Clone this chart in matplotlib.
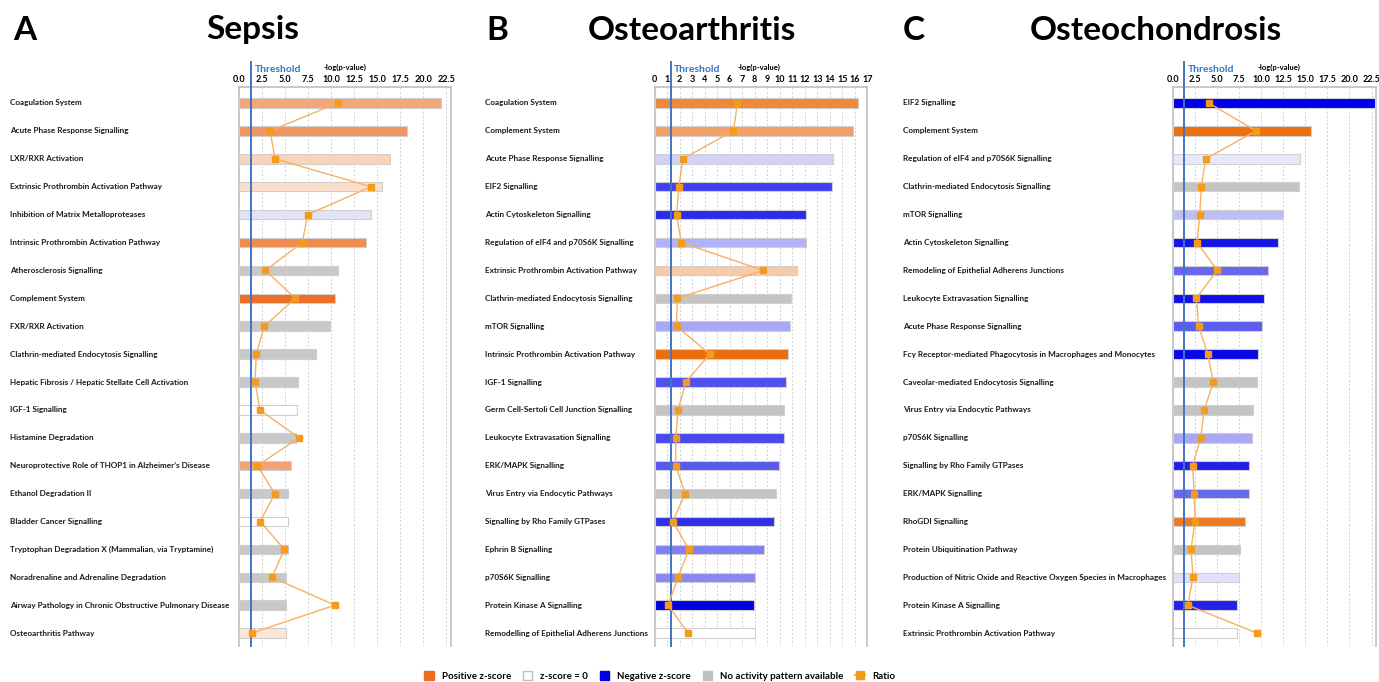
import matplotlib
matplotlib.use("Agg")
import matplotlib.pyplot as plt
from matplotlib.patches import Patch
from matplotlib.lines import Line2D
from matplotlib.transforms import blended_transform_factory

# ---------------- data ----------------
sepsis_pathways = [
    "Coagulation System", "Acute Phase Response Signalling", "LXR/RXR Activation",
    "Extrinsic Prothrombin Activation Pathway", "Inhibition of Matrix Metalloproteases",
    "Intrinsic Prothrombin Activation Pathway", "Atherosclerosis Signalling",
    "Complement System", "FXR/RXR Activation", "Clathrin-mediated Endocytosis Signalling",
    "Hepatic Fibrosis / Hepatic Stellate Cell Activation", "IGF-1 Signalling",
    "Histamine Degradation", "Neuroprotective Role of THOP1 in Alzheimer\u2019s Disease",
    "Ethanol Degradation II", "Bladder Cancer Signalling",
    "Tryptophan Degradation X (Mammalian, via Tryptamine)",
    "Noradrenaline and Adrenaline Degradation",
    "Airway Pathology in Chronic Obstructive Pulmonary Disease", "Osteoarthritis Pathway",
]
sepsis_logp = [21.9, 18.25, 16.45, 15.5, 14.4, 13.85, 10.75, 10.42, 9.88, 8.37,
               6.45, 6.28, 6.2, 5.7, 5.34, 5.34, 5.3, 5.12, 5.12, 5.12]
sepsis_ratio = [0.467, 0.148, 0.171, 0.624, 0.325, 0.300, 0.126, 0.267, 0.121, 0.083,
                0.077, 0.100, 0.284, 0.088, 0.170, 0.102, 0.215, 0.157, 0.454, 0.061]
sepsis_colors = ["#F4A677", "#F09660", "#FBD3B6", "#FCDFCB", "#E3E3F5", "#EF8C4E",
                 "#C8C8C8", "#EC6F26", "#C8C8C8", "#C8C8C8", "#C8C8C8", "#FFFFFF",
                 "#C8C8C8", "#F3A273", "#C8C8C8", "#FFFFFF", "#C8C8C8", "#C8C8C8",
                 "#C8C8C8", "#FBE7D9"]

oa_pathways = [
    "Coagulation System", "Complement System", "Acute Phase Response Signalling",
    "EIF2 Signalling", "Actin Cytoskeleton Signalling",
    "Regulation of eIF4 and p70S6K Signalling", "Extrinsic Prothrombin Activation Pathway",
    "Clathrin-mediated Endocytosis Signalling", "mTOR Signalling",
    "Intrinsic Prothrombin Activation Pathway", "IGF-1 Signalling",
    "Germ Cell-Sertoli Cell Junction Signalling", "Leukocyte Extravasation Signalling",
    "ERK/MAPK Signalling", "Virus Entry via Endocytic Pathways",
    "Signalling by Rho Family GTPases", "Ephrin B Signalling", "p70S6K Signalling",
    "Protein Kinase A Signalling", "Remodelling of Epithelial Adherens Junctions",
]
oa_logp = [16.25, 15.82, 14.24, 14.14, 12.1, 12.13, 11.39, 10.88, 10.8, 10.64,
           10.48, 10.37, 10.35, 9.97, 9.73, 9.51, 8.71, 8.04, 7.96, 8.0]
oa_ratio = [0.389, 0.370, 0.132, 0.114, 0.103, 0.125, 0.511, 0.106, 0.103, 0.259,
            0.146, 0.110, 0.099, 0.099, 0.143, 0.085, 0.161, 0.110, 0.063, 0.157]
oa_colors = ["#F0883A", "#F2A06A", "#D2D2F8", "#4040F0", "#2C2CE8", "#B2B2F6",
             "#F8CAA6", "#C4C4C4", "#A8A8F4", "#EB6D0C", "#5050EE", "#C4C4C4",
             "#4848EE", "#5858EE", "#C4C4C4", "#3030E8", "#8080F2", "#8888F2",
             "#0000E0", "#FFFFFF"]

oc_pathways = [
    "EIF2 Signalling", "Complement System", "Regulation of eIF4 and p70S6K Signalling",
    "Clathrin-mediated Endocytosis Signalling", "mTOR Signalling",
    "Actin Cytoskeleton Signalling", "Remodeling of Epithelial Adherens Junctions",
    "Leukocyte Extravasation Signalling", "Acute Phase Response Signalling",
    "Fc\u03b3 Receptor-mediated Phagocytosis in Macrophages and Monocytes",
    "Caveolar-mediated Endocytosis Signalling", "Virus Entry via Endocytic Pathways",
    "p70S6K Signalling", "Signalling by Rho Family GTPases", "ERK/MAPK Signalling",
    "RhoGDI Signalling", "Protein Ubiquitination Pathway",
    "Production of Nitric Oxide and Reactive Oxygen Species in Macrophages",
    "Protein Kinase A Signalling", "Extrinsic Prothrombin Activation Pathway",
]
oc_logp = [22.88, 15.64, 14.36, 14.29, 12.51, 11.95, 10.74, 10.36, 10.07, 9.69,
           9.57, 9.12, 8.93, 8.67, 8.67, 8.21, 7.61, 7.53, 7.27, 7.24]
oc_ratio = [0.177, 0.410, 0.162, 0.141, 0.133, 0.120, 0.219, 0.116, 0.128, 0.172,
            0.200, 0.155, 0.138, 0.098, 0.106, 0.110, 0.090, 0.100, 0.074, 0.415]
oc_colors = ["#0000E8", "#EB6E0F", "#E8E8FB", "#C4C4C4", "#BEBEF6", "#1515E6",
             "#6666EE", "#1010E6", "#5C5CEE", "#0808E6", "#C4C4C4", "#C4C4C4",
             "#A8A8F4", "#2020E6", "#6868EE", "#EC7A24", "#C4C4C4", "#E0E0FA",
             "#2222E8", "#FFFFFF"]

threshold = 1.3

panels = [
    dict(letter="A", title="Sepsis", names=sepsis_pathways, logp=sepsis_logp,
         ratio=sepsis_ratio, colors=sepsis_colors, xmax=23,
         ticks=[0, 2.5, 5, 7.5, 10, 12.5, 15, 17.5, 20, 22.5], fmt="{:.1f}",
         ax_rect=(238.7, 450.7), label_x=10, letter_x=13, title_cx=253,
         loglab_cx=344.5, thr_x=255),
    dict(letter="B", title="Osteoarthritis", names=oa_pathways, logp=oa_logp,
         ratio=oa_ratio, colors=oa_colors, xmax=17,
         ticks=list(range(0, 18)), fmt="{:d}",
         ax_rect=(654.7, 867.3), label_x=485, letter_x=486, title_cx=691.7,
         loglab_cx=759, thr_x=674),
    dict(letter="C", title="Osteochondrosis", names=oc_pathways, logp=oc_logp,
         ratio=oc_ratio, colors=oc_colors, xmax=23,
         ticks=[0, 2.5, 5, 7.5, 10, 12.5, 15, 17.5, 20, 22.5], fmt="{:.1f}",
         ax_rect=(1172.7, 1376.0), label_x=903, letter_x=903, title_cx=1155.8,
         loglab_cx=1279, thr_x=1188),
]

W, H = 1379, 682
plt.rcParams['font.family'] = ['Lato', 'DejaVu Sans']
fig = plt.figure(figsize=(W / 100, H / 100), dpi=100)
fig.patch.set_facecolor("white")

top_px, bot_px = 86.5, 646.0
n_rows = 20
first_row_px, row_step = 103.0, 27.9
ylim_top = -(first_row_px - top_px) / row_step
ylim_bot = (n_rows - 1) + (bot_px - (first_row_px + (n_rows - 1) * row_step)) / row_step

for p in panels:
    x0, x1 = p["ax_rect"]
    ax = fig.add_axes([x0 / W, 1 - bot_px / H, (x1 - x0) / W, (bot_px - top_px) / H])
    ypos = list(range(len(p["names"])))
    ax.barh(ypos, p["logp"], height=0.34, color=p["colors"],
            edgecolor="#CFCFCF", linewidth=0.8, zorder=3)
    ax.set_xlim(0, p["xmax"])
    ax.set_ylim(ylim_bot, ylim_top)
    ax.set_yticks([])
    ax.grid(axis="x", linestyle=(0, (2, 2)), color="#D0D0D0", linewidth=0.7, zorder=0)
    for s in ["top", "right", "left"]:
        ax.spines[s].set_color("#BFBFBF")
        ax.spines[s].set_linewidth(1.2)
    ax.spines["bottom"].set_visible(False)
    ax.axvline(threshold, ymin=0, ymax=1.044, color="#4472C4", linewidth=1.4,
               clip_on=False, zorder=6)

    # ratio on a hidden secondary axis
    ax2 = ax.twiny()
    ax2.set_xlim(0, 1)
    ax2.plot(p["ratio"], ypos, color="#F8B060", linewidth=1.0, marker="s",
             markersize=4, markerfacecolor="#F59B1C", markeredgecolor="#F59B1C",
             zorder=7)
    ax2.xaxis.set_visible(False)
    for s in ax2.spines.values():
        s.set_visible(False)
    ax2.set_ylim(ylim_bot, ylim_top)

    # top tick labels on the primary axis
    ax.xaxis.set_visible(True)
    ax.xaxis.tick_top()
    ax.set_xticks(p["ticks"])
    ax.set_xticklabels([p["fmt"].format(t) if p["fmt"] == "{:.1f}" else str(int(t))
                        for t in p["ticks"]], fontsize=6.5, fontweight="bold")
    ax.tick_params(axis="x", which="both", length=0, pad=2, top=True, labeltop=True,
                   bottom=False, labelbottom=False)

    # pathway labels
    tr = blended_transform_factory(fig.transFigure, ax.transData)
    for i, name in enumerate(p["names"]):
        ax.text(p["label_x"] / W, i, name, transform=tr, ha="left", va="center",
                fontsize=5.9, fontweight="bold", color="#1A1A1A")

    # headings
    fig.text(p["letter_x"] / W, 1 - 30 / H, p["letter"], fontsize=24,
             fontweight="bold", ha="left", va="center")
    fig.text(p["title_cx"] / W, 1 - 30 / H, p["title"], fontsize=24,
             fontweight="bold", ha="center", va="center")
    fig.text(p["loglab_cx"] / W, 1 - 67 / H, "-log(p-value)", fontsize=5.5,
             fontweight="bold", ha="center", va="center")
    fig.text(p["thr_x"] / W, 1 - 69.5 / H, "Threshold", fontsize=7.5,
             fontweight="bold", color="#2F75CC", ha="left", va="center")

handles = [
    Patch(facecolor="#EB6E1E", edgecolor="#EB6E1E", label="Positive z-score"),
    Patch(facecolor="white", edgecolor="#BFBFBF", label="z-score = 0"),
    Patch(facecolor="#0000E6", edgecolor="#0000E6", label="Negative z-score"),
    Patch(facecolor="#C0C0C0", edgecolor="#C0C0C0", label="No activity pattern available"),
    Line2D([0], [0], color="#F8B060", linewidth=1.5, marker="s", markersize=6,
           markerfacecolor="#F59B1C", markeredgecolor="#F59B1C", label="Ratio"),
]
leg = fig.legend(handles=handles, loc="center", bbox_to_anchor=(660 / W, 1 - 676 / H),
                 ncol=5, frameon=False, handlelength=1.0, handleheight=1.0,
                 handletextpad=0.8, columnspacing=1.2,
                 prop={"size": 7, "weight": "bold"})

fig.savefig("out.png", dpi=100, facecolor="white")
